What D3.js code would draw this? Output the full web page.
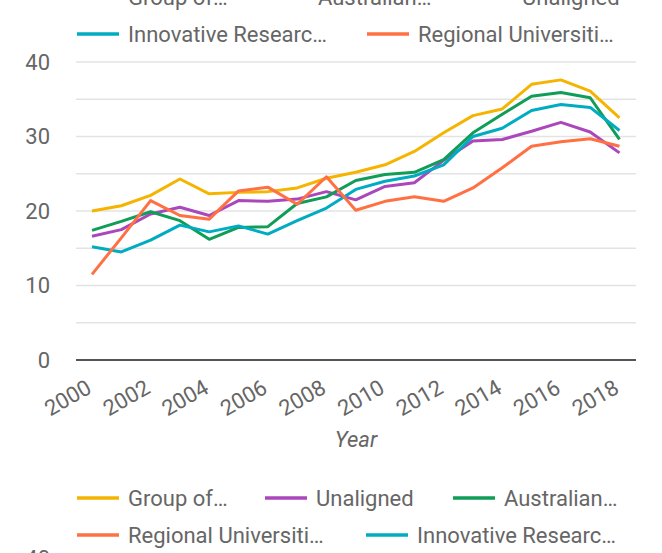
<!DOCTYPE html>
<html lang="en">
  <head>
    <meta charset="utf-8">
    <title>Groups by year</title>
    <script src="https://cdn.jsdelivr.net/npm/d3@7"></script>
    <style>
      body { margin: 0; background: #fff; }
      text { font-family: Roboto, sans-serif; fill: #666; }
    </style>
  </head>
  <body>
    <script>
      var years = d3.range(2000, 2019)
      var yTicks = [0, 10, 20, 30, 40]
      var gridTicks = [0, 5, 10, 15, 20, 25, 30, 35, 40]
      var xTicks = [2000, 2002, 2004, 2006, 2008, 2010, 2012, 2014, 2016, 2018]

      var groupOfEight = [20.0, 20.7, 22.1, 24.3, 22.3, 22.5, 22.6, 23.1, 24.4, 25.2, 26.2, 28.0, 30.5, 32.8, 33.7, 37.0, 37.6, 36.1, 32.5]
      var unaligned    = [16.6, 17.5, 19.6, 20.5, 19.4, 21.4, 21.3, 21.6, 22.6, 21.5, 23.3, 23.8, 26.8, 29.4, 29.6, 30.7, 31.9, 30.6, 27.8]
      var australian   = [17.4, 18.6, 19.9, 18.7, 16.2, 17.8, 17.9, 21.0, 21.9, 24.1, 24.9, 25.2, 26.9, 30.5, 33.0, 35.4, 35.9, 35.2, 29.6]
      var regional     = [11.5, 16.4, 21.4, 19.4, 18.9, 22.7, 23.2, 20.9, 24.6, 20.1, 21.3, 21.9, 21.3, 23.1, 25.8, 28.7, 29.3, 29.7, 28.7]
      var innovative   = [15.2, 14.5, 16.1, 18.1, 17.2, 18.0, 16.9, 18.7, 20.4, 22.9, 24.0, 24.7, 26.2, 30.0, 31.1, 33.5, 34.3, 33.9, 30.8]

      // drawing order (last on top)
      var series = [
        {name: 'Group of…', color: '#f4b400', values: groupOfEight},
        {name: 'Unaligned', color: '#ab47bc', values: unaligned},
        {name: 'Australian…', color: '#0f9d58', values: australian},
        {name: 'Innovative Researc…', color: '#00acc1', values: innovative},
        {name: 'Regional Universiti…', color: '#ff7043', values: regional}
      ]
      function byName(n) { return series.find(function(s) { return s.name == n }) }

      var svg = d3.select('body').append('svg').attr('width', 662).attr('height', 553)

      var x = d3.scaleLinear().domain([2000, 2018]).range([92, 619.5])
      var y = d3.scaleLinear().domain([0, 40]).range([360, 62])
      var left = 76, right = 636

      // grid
      svg.append('g').selectAll('line').data(gridTicks.filter(function(d) { return d > 0 })).enter().append('line')
        .attr('x1', left).attr('x2', right)
        .attr('y1', function(d) { return y(d) }).attr('y2', function(d) { return y(d) })
        .attr('stroke', '#e3e3e3').attr('stroke-width', 1.6)

      // y labels
      svg.append('g').selectAll('text').data(yTicks).enter().append('text')
        .attr('x', 50).attr('y', function(d) { return y(d) })
        .attr('dy', '0.36em').attr('text-anchor', 'end')
        .attr('font-size', 22)
        .text(function(d) { return d })

      // lines
      var line = d3.line()
        .x(function(d, i) { return x(years[i]) })
        .y(function(d) { return y(d) })

      svg.append('g').selectAll('path').data(series).enter().append('path')
        .attr('d', function(d) { return line(d.values) })
        .attr('fill', 'none')
        .attr('stroke', function(d) { return d.color })
        .attr('stroke-width', 3)
        .attr('stroke-linejoin', 'round')

      // baseline
      svg.append('line')
        .attr('x1', left).attr('x2', right).attr('y1', y(0)).attr('y2', y(0))
        .attr('stroke', '#555').attr('stroke-width', 1.8)

      // x labels
      svg.append('g').selectAll('text').data(xTicks).enter().append('text')
        .attr('transform', function(d) { return 'translate(' + (x(d) + 1) + ',392) rotate(-30)' })
        .attr('text-anchor', 'end')
        .attr('font-size', 22)
        .text(function(d) { return d })

      svg.append('text')
        .attr('x', 356).attr('y', 447)
        .attr('text-anchor', 'middle')
        .attr('font-size', 22).attr('font-style', 'italic')
        .text('Year')

      // legends: [name, line x, row y]
      function legend(items) {
        var g = svg.append('g')
        items.forEach(function(it) {
          var s = byName(it[0])
          g.append('line')
            .attr('x1', it[1]).attr('x2', it[1] + 42)
            .attr('y1', it[2]).attr('y2', it[2])
            .attr('stroke', s.color).attr('stroke-width', 3.5)
          g.append('text')
            .attr('x', it[1] + 51).attr('y', it[2])
            .attr('dy', '0.36em')
            .attr('font-size', 22)
            .text(s.name)
        })
      }

      legend([
        ['Group of…', 77, -3], ['Australian…', 267, -3], ['Unaligned', 471, -3],
        ['Innovative Researc…', 77, 34], ['Regional Universiti…', 367, 34]
      ])
      legend([
        ['Group of…', 77, 498], ['Unaligned', 265, 498], ['Australian…', 453, 498],
        ['Regional Universiti…', 77, 535], ['Innovative Researc…', 366, 535]
      ])

      // top of the next chart's axis label, cut by the frame
      svg.append('text')
        .attr('x', 50).attr('y', 558).attr('dy', '0.36em')
        .attr('text-anchor', 'end').attr('font-size', 22)
        .text(40)
    </script>
  </body>
</html>
